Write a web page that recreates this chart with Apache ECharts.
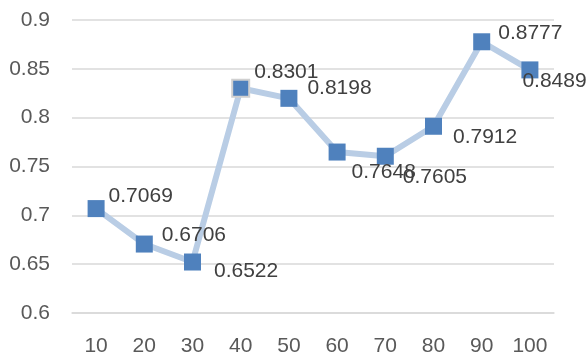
<!DOCTYPE html>
<html><head><meta charset="utf-8">
<script src="https://cdn.jsdelivr.net/npm/echarts@6/dist/echarts.min.js"></script>
<style>html,body{margin:0;padding:0;background:#fff}#c{width:588px;height:358px}</style>
</head><body><div id="c"></div>
<script>
const categories = ['10','20','30','40','50','60','70','80','90','100'];
const values = [0.7069,0.6706,0.6522,0.8301,0.8198,0.7648,0.7605,0.7912,0.8777,0.8489];
const yTicks = ['0.6','0.65','0.7','0.75','0.8','0.85','0.9'];
// label offsets (layout only)
const labelOffsets = [[0,-12],[5,-9],[9,9],[0,-16],[6,-10],[2,20],[5,21],[7,11],[4,-9],[-20,11]];

const chart = echarts.init(document.getElementById('c'));
const font = 'Liberation Sans, Arial, sans-serif';
chart.setOption({
  animation:false,
  grid:{left:72,right:34,top:20,bottom:45},
  xAxis:{type:'category',data:categories,boundaryGap:true,
    axisLine:{lineStyle:{color:'#d9d9d9',width:1.5}},axisTick:{show:false},
    axisLabel:{color:'#595959',fontSize:21,fontFamily:font,margin:23}},
  yAxis:{type:'value',min:0.6,max:0.9,interval:0.05,
    axisLine:{show:false},axisTick:{show:false},
    splitLine:{lineStyle:{color:'#d9d9d9',width:1.5}},
    axisLabel:{color:'#595959',fontSize:21,fontFamily:font,margin:22,
      formatter:(v)=>yTicks[Math.round((v-0.6)/0.05)]}},
  series:[{type:'line',
    data:values.map((v,i)=>({value:v,
      itemStyle: i===3?{borderColor:'#d0d0d0',borderWidth:2}:undefined,
      label:{offset:labelOffsets[i]}})),
    symbol:'rect',symbolSize:17,
    lineStyle:{color:'#b9cde5',width:6},
    itemStyle:{color:'#4f81bd'},
    label:{show:true,position:'right',distance:4,color:'#404040',fontSize:21,fontFamily:font,
      formatter:(p)=>p.value.toFixed(4)}
  }]
});
</script></body></html>
